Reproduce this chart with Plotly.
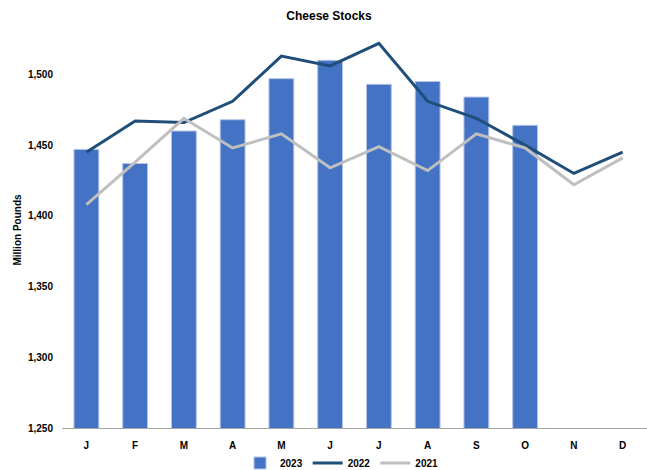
import plotly.graph_objects as go

months = ["J", "F", "M", "A", "M", "J", "J", "A", "S", "O", "N", "D"]
x_idx = list(range(12))
stocks_2023 = [1447, 1437, 1460, 1468, 1497, 1510, 1493, 1495, 1484, 1464, None, None]
stocks_2022 = [1445, 1467, 1466, 1481, 1513, 1506, 1522, 1481, 1469, 1450, 1430, 1445]
stocks_2021 = [1408, 1438, 1469, 1448, 1458, 1434, 1449, 1432, 1458, 1448, 1422, 1441]
y_ticks = [1250, 1300, 1350, 1400, 1450, 1500]

font_family = "Liberation Sans, Arial, sans-serif"

fig = go.Figure()
fig.add_trace(go.Bar(
    x=x_idx, y=stocks_2023, name="<b>2023</b>", base=0,
    marker=dict(color="#4472C4", line=dict(color="#B4C7E7", width=1)),
))
fig.add_trace(go.Scatter(
    x=x_idx, y=stocks_2022, name="<b>2022</b>", mode="lines",
    line=dict(color="#1F4E79", width=3),
))
fig.add_trace(go.Scatter(
    x=x_idx, y=stocks_2021, name="<b>2021</b>", mode="lines",
    line=dict(color="#BFBFBF", width=3),
))

fig.update_layout(
    width=647, height=470,
    margin=dict(l=62, r=0, t=32, b=42, autoexpand=False),
    paper_bgcolor="white", plot_bgcolor="white",
    bargap=0.49,
    font=dict(family=font_family, size=10, color="#000000"),
    title=dict(text="<b>Cheese Stocks</b>", x=329/647, xanchor="center",
               y=1 - 16/470, yanchor="middle",
               font=dict(size=12, family=font_family, color="#000000")),
    showlegend=True,
    legend=dict(orientation="h", xref="container", x=240/647, xanchor="left",
                yref="container", y=1 - 463/470, yanchor="middle",
                font=dict(size=10, family=font_family), traceorder="normal",
                itemwidth=30, tracegroupgap=0),
    xaxis=dict(
        tickmode="array", tickvals=x_idx, ticktext=["<b>%s</b>" % m for m in months],
        range=[-0.5, 11.5], showgrid=False, showline=True, linecolor="#A6A6A6",
        linewidth=1, ticks="", tickfont=dict(size=10), ticklabelstandoff=8,
    ),
    yaxis=dict(
        range=[1250, 1530], tickvals=y_ticks,
        ticktext=["<b>{:,}</b>".format(v) for v in y_ticks],
        showgrid=False, showline=False, zeroline=False, ticks="",
        tickfont=dict(size=10), ticklabelstandoff=8,
        title=dict(text="<b>Million Pounds</b>", font=dict(size=10), standoff=4),
    ),
)

fig.write_html("out.html")
